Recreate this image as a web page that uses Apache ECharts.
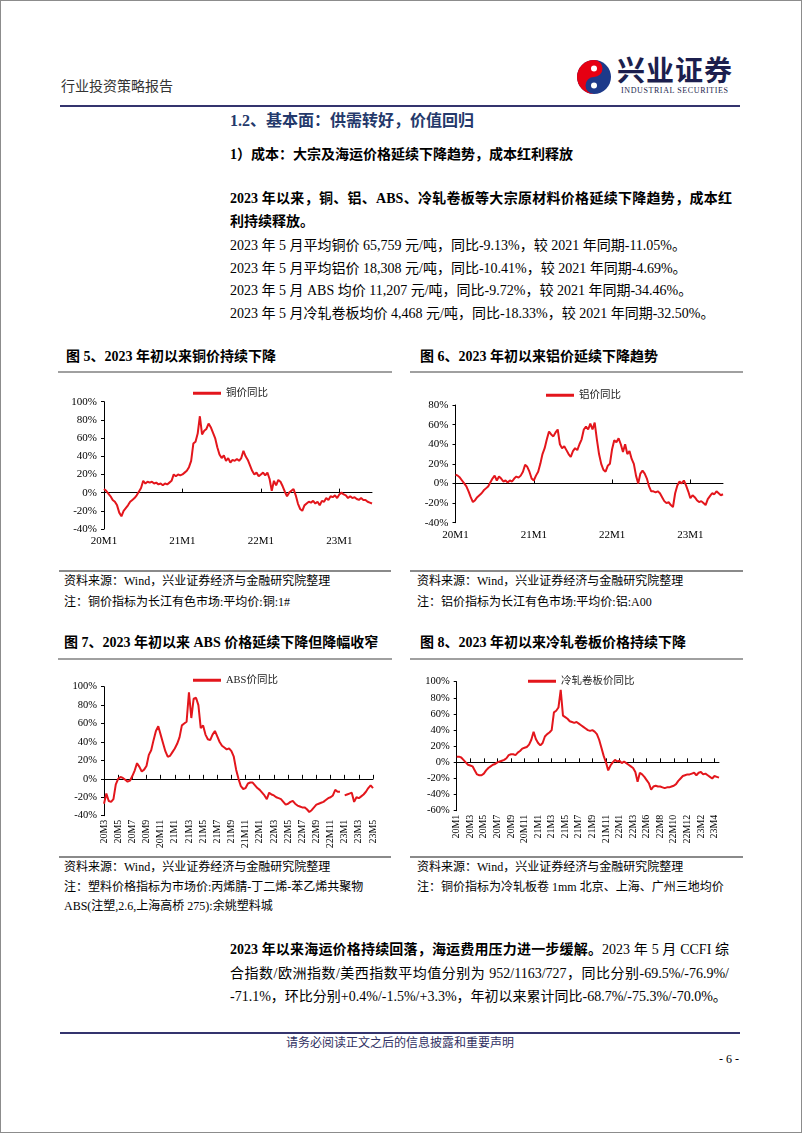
<!DOCTYPE html>
<html><head><meta charset="utf-8">
<script src="https://cdn.jsdelivr.net/npm/echarts/dist/echarts.min.js"></script>
<style>
html,body{margin:0;padding:0;background:#fff;}
#page{position:relative;width:802px;height:1133px;overflow:hidden;background:#fff;font-family:"Liberation Serif","Noto Sans CJK SC",serif;color:#000;}
#frame{position:absolute;left:0;top:0;width:802px;height:1133px;box-sizing:border-box;border:1px solid #8c8c8c;pointer-events:none;}
.t{position:absolute;white-space:nowrap;line-height:20px;height:20px;}
.b{font-weight:bold;}
.s14{font-size:14px;}
.s12{font-size:12px;}
.j{text-align:justify;text-align-last:justify;white-space:normal;}
.rule{position:absolute;}
.chart{position:absolute;}
</style></head>
<body>
<div id="page">
<div class="t" style="left:61px;top:77px;font-size:14px;color:#333;">行业投资策略报告</div>
<svg style="position:absolute;left:576px;top:59px" width="36" height="36" viewBox="0 0 36 36">
  <circle cx="18" cy="18" r="17" fill="#1d3a8a"/>
  <path d="M18 1 A17 17 0 0 0 18 35 A8.5 8.5 0 0 1 18 18 A8.5 8.5 0 0 0 18 1Z" fill="#e60012"/>
  <circle cx="18" cy="9.5" r="3" fill="#fff"/>
  <circle cx="18" cy="26.5" r="3" fill="#fff"/>
</svg>
<div class="t b" style="left:617px;top:57px;font-size:28px;line-height:30px;height:30px;color:#1c1f4e;letter-spacing:1px;">兴业证券</div>
<div class="t" style="left:621px;top:86px;font-size:8px;line-height:10px;height:10px;color:#1c1f4e;letter-spacing:0.6px;">INDUSTRIAL SECURITIES</div>
<div class="rule" style="left:60px;top:105px;width:680px;height:2px;background:#34346e;"></div>

<div class="t b" style="left:230px;top:111px;font-size:16px;color:#24396b;">1.2、基本面：供需转好，价值回归</div>
<div class="t b s14" style="left:230px;top:145px;">1）成本：大宗及海运价格延续下降趋势，成本红利释放</div>
<div class="t b s14 j" style="left:230px;top:189px;width:502px;">2023 年以来，铜、铝、ABS、冷轧卷板等大宗原材料价格延续下降趋势，成本红</div>
<div class="t b s14" style="left:230px;top:212px;">利持续释放。</div>
<div class="t s14" style="left:230px;top:236px;">2023 年 5 月平均铜价 65,759 元/吨，同比-9.13%，较 2021 年同期-11.05%。</div>
<div class="t s14" style="left:230px;top:259px;">2023 年 5 月平均铝价 18,308 元/吨，同比-10.41%，较 2021 年同期-4.69%。</div>
<div class="t s14" style="left:230px;top:281px;">2023 年 5 月 ABS 均价 11,207 元/吨，同比-9.72%，较 2021 年同期-34.46%。</div>
<div class="t s14" style="left:230px;top:304px;">2023 年 5 月冷轧卷板均价 4,468 元/吨，同比-18.33%，较 2021 年同期-32.50%。</div>

<div class="t b s14" style="left:66px;top:347px;">图 5、2023 年初以来铜价持续下降</div>
<div class="t b s14" style="left:420px;top:347px;">图 6、2023 年初以来铝价延续下降趋势</div>
<div class="rule" style="left:58px;top:371px;width:334px;height:2px;background:#a0a0a0;"></div>
<div class="rule" style="left:410px;top:371px;width:333px;height:2px;background:#a0a0a0;"></div>
<div id="c5" class="chart" style="left:40px;top:378px;width:360px;height:180px;"></div>
<div id="c6" class="chart" style="left:405px;top:378px;width:360px;height:180px;"></div>
<div class="rule" style="left:59px;top:570px;width:332px;height:2px;background:#8a8a8a;"></div>
<div class="rule" style="left:410px;top:570px;width:333px;height:2px;background:#8a8a8a;"></div>
<div class="t s12" style="left:64px;top:571px;">资料来源：Wind，兴业证券经济与金融研究院整理</div>
<div class="t s12" style="left:64px;top:592px;">注：铜价指标为长江有色市场:平均价:铜:1#</div>
<div class="t s12" style="left:417px;top:571px;">资料来源：Wind，兴业证券经济与金融研究院整理</div>
<div class="t s12" style="left:417px;top:592px;">注：铝价指标为长江有色市场:平均价:铝:A00</div>

<div class="t b s14" style="left:64px;top:633px;">图 7、2023 年初以来 ABS 价格延续下降但降幅收窄</div>
<div class="t b s14" style="left:420px;top:633px;">图 8、2023 年初以来冷轧卷板价格持续下降</div>
<div class="rule" style="left:58px;top:658px;width:334px;height:2px;background:#a0a0a0;"></div>
<div class="rule" style="left:410px;top:658px;width:333px;height:2px;background:#a0a0a0;"></div>
<div id="c7" class="chart" style="left:40px;top:665px;width:360px;height:190px;"></div>
<div id="c8" class="chart" style="left:405px;top:665px;width:360px;height:190px;"></div>
<div class="rule" style="left:59px;top:856px;width:332px;height:2px;background:#8a8a8a;"></div>
<div class="rule" style="left:410px;top:856px;width:333px;height:2px;background:#8a8a8a;"></div>
<div class="t s12" style="left:64px;top:857px;">资料来源：Wind，兴业证券经济与金融研究院整理</div>
<div class="t s12" style="left:64px;top:877px;">注：塑料价格指标为市场价:丙烯腈-丁二烯-苯乙烯共聚物</div>
<div class="t s12" style="left:64px;top:896px;">ABS(注塑,2.6,上海高桥 275):余姚塑料城</div>
<div class="t s12" style="left:417px;top:857px;">资料来源：Wind，兴业证券经济与金融研究院整理</div>
<div class="t s12" style="left:417px;top:877px;">注：铜价指标为冷轧板卷 1mm 北京、上海、广州三地均价</div>

<div class="t s14 j" style="left:230px;top:940px;width:499px;"><b>2023 年以来海运价格持续回落，海运费用压力进一步缓解。</b>2023 年 5 月 CCFI 综</div>
<div class="t s14 j" style="left:230px;top:964px;width:499px;">合指数/欧洲指数/美西指数平均值分别为 952/1163/727，同比分别-69.5%/-76.9%/</div>
<div class="t s14" style="left:230px;top:987px;">-71.1%，环比分别+0.4%/-1.5%/+3.3%，年初以来累计同比-68.7%/-75.3%/-70.0%。</div>

<div class="rule" style="left:60px;top:1032px;width:680px;height:2px;background:#34346e;"></div>
<div class="t s12" style="left:0;width:800px;text-align:center;top:1033px;color:#2f2f62;">请务必阅读正文之后的信息披露和重要声明</div>
<div class="t s12" style="left:690px;width:49px;text-align:right;top:1049px;">- 6 -</div>
<div id="frame"></div>
</div>
<script>
// ---- data ----
const copperTicks = ['20M1','21M1','22M1','23M1'];
const copperYoY = [4,2,-1, -4,-8,-10, -14,-22,-26, -20,-17,-14, -10,-8,-6, -3,1,5, 13,10,12, 11,12,10, 11,9,10, 8,10,9,
  11,13,20, 18,20,19, 20,22,24, 28,35,54, 56,65,84, 64,68,70, 76,72,66, 60,50,42, 38,41,35, 38,33,36, 35,37,35, 38,46,40,
  36,30,24, 20,22,18, 20,22,19, 22,15,2, 13,8,14, 12,7,1, -4,0,2, 4,-3,-12, -18,-20,-14, -12,-10,-11, -9,-12,-10, -14,-9,-10,
  -6,-8,-4, -5,-3,-6, -2,0,-2, -3,-6,-4, -6,-5,-7, -8,-6,-8, -8,-10,-11, -12];
const aluTicks = ['20M1','21M1','22M1','23M1'];
const aluYoY = [9,8,6, 3,0,-3, -8,-14,-19, -17,-14,-12, -10,-7,-5, -3,1,5, 8,3,7, 5,2,3, 1,3,2, 5,7,6, 8,12,19, 17,12,5,
  3,8,12, 20,30,36, 45,53,50, 48,52,55, 40,36,38, 34,30,27, 33,36,34, 40,45,55, 58,55,61, 55,62,45, 30,20,14, 12,18,20,
  35,44,42, 46,40,32, 40,30,33, 25,20,8, 0,10,13, 10,5,-3, -8,-8,-9, -8,-10,-14, -18,-20,-19, -22,-24,-10, -2,2,0, 3,-2,-8,
  -15,-12,-14, -17,-19,-18, -20,-22,-16, -13,-10,-11, -8,-10,-12, -11];
const absTicks = ['20M3','20M5','20M7','20M9','20M11','21M1','21M3','21M5','21M7','21M9','21M11','22M1','22M3','22M5','22M7','22M9','22M11','23M1','23M3','23M5'];
const absYoY = [-27,-16,-24,-25,-22,-6,0,2,1,-1,-3,-2,3,9,17,13,8,10,14,26,31,42,52,57,48,39,30,24,25,29,
  33,38,45,58,60,62,94,66,87,88,80,55,58,48,43,42,48,52,46,40,36,34,32,33,30,24,10,0,-8,-11,
  -10,-5,-4,-4,-7,-10,-12,-15,-18,-22,-15,-17,-18,-20,-21,-22,-25,-28,-27,-25,-24,-27,-29,-30,-31,-31,-33,-36,-34,-31,
  -28,-27,-26,-25,-23,-21,-20,-18,-12,-14,-14,null,-18,-17,-16,-15,-25,-20,-21,-19,-17,-14,-10,-7,-10];
const coilTicks = ['20M1','20M3','20M5','20M7','20M9','20M11','21M1','21M3','21M5','21M7','21M9','21M11','22M1','22M3','22M6','22M8','22M10','22M12','23M2','23M4'];
const coilYoY = [7,7,6,3,0,-3,-4,-5,-10,-15,-16,-16,-14,-10,-7,-5,-3,-2,0,1,2,3,5,9,10,10,9,12,14,17,
  18,19,22,28,38,29,24,21,24,32,35,37,40,62,64,68,90,58,56,54,51,50,49,50,48,46,44,42,40,39,
  40,38,35,28,18,8,0,-10,-4,0,3,1,2,-1,1,-1,-3,-5,-7,-12,-24,-13,-15,-18,-22,-26,-34,-30,-29,-30,
  -30,-31,-32,-31,-31,-30,-29,-27,-23,-20,-17,-16,-15,-15,-14,-13,-16,-13,-12,-15,-14,-16,-18,-20,-17,-18,-19];

const RED = '#e3161c';
const NUM_FONT = '"Liberation Serif","Noto Sans CJK SC",serif';

function build(id, c) {
  const chart = echarts.init(document.getElementById(id));
  const cats = c.values.map((v, i) => 'p' + i);
  const K = c.step;
  const show = (i) => i % K === 0 && (i / K) < c.ticks.length;
  chart.setOption({
    animation: false,
    textStyle: { fontFamily: NUM_FONT },
    legend: {
      data: [c.name], left: c.legendLeft, top: c.legendTop, icon: 'rect',
      itemWidth: 28, itemHeight: 3,
      textStyle: { fontSize: 10.5, color: '#222', fontFamily: NUM_FONT }
    },
    grid: c.grid,
    xAxis: [
      { type: 'category', data: cats, boundaryGap: false,
        axisLine: { show: false, onZero: false }, axisTick: { show: false }, splitLine: { show: false },
        axisLabel: { interval: show, formatter: (v, i) => c.ticks[i / K] || '', rotate: c.rotate,
          fontSize: c.xFont, color: '#000', margin: c.xMargin, fontFamily: NUM_FONT } },
      { type: 'category', data: cats, boundaryGap: false, position: 'bottom',
        axisLine: { show: true, onZero: true, lineStyle: { color: '#000', width: 1 } },
        axisTick: { show: true, inside: true, length: 4, interval: show, lineStyle: { color: '#000' } },
        axisLabel: { show: false }, splitLine: { show: false } }
    ],
    yAxis: {
      type: 'value', min: c.min, max: c.max, interval: 20,
      axisLine: { show: true, lineStyle: { color: '#000', width: 1 } },
      axisTick: { show: true, length: 3, lineStyle: { color: '#000' } },
      splitLine: { show: false },
      axisLabel: { formatter: '{value}%', fontSize: c.yFont, color: '#000', margin: 7, fontFamily: NUM_FONT }
    },
    series: [{
      name: c.name, type: 'line', data: c.values, xAxisIndex: 0, yAxisIndex: 0,
      showSymbol: false, symbol: 'none', connectNulls: false,
      lineStyle: { color: RED, width: 2 }, itemStyle: { color: RED }
    }]
  });
}

build('c5', { name: '铜价同比', values: copperYoY, ticks: copperTicks, step: 36,
  min: -40, max: 100, grid: { left: 64, top: 23.7, width: 268, height: 127.3 },
  legendLeft: 148, legendTop: 5, rotate: 0, xFont: 11, yFont: 11, xMargin: 7 });
build('c6', { name: '铝价同比', values: aluYoY, ticks: aluTicks, step: 36,
  min: -40, max: 80, grid: { left: 50.5, top: 27, width: 267.5, height: 117.7 },
  legendLeft: 136, legendTop: 7, rotate: 0, xFont: 11, yFont: 11, xMargin: 7 });
build('c7', { name: 'ABS价同比', values: absYoY, ticks: absTicks, step: 6,
  min: -40, max: 100, grid: { left: 64, top: 21.7, width: 269, height: 129 },
  legendLeft: 148, legendTop: 5, rotate: 90, xFont: 10, yFont: 10.5, xMargin: 4 });
build('c8', { name: '冷轧卷板价同比', values: coilYoY, ticks: coilTicks, step: 6,
  min: -60, max: 100, grid: { left: 51.7, top: 16.7, width: 262.3, height: 129 },
  legendLeft: 118, legendTop: 6, rotate: 90, xFont: 10, yFont: 10.5, xMargin: 4 });
</script>
</body></html>
